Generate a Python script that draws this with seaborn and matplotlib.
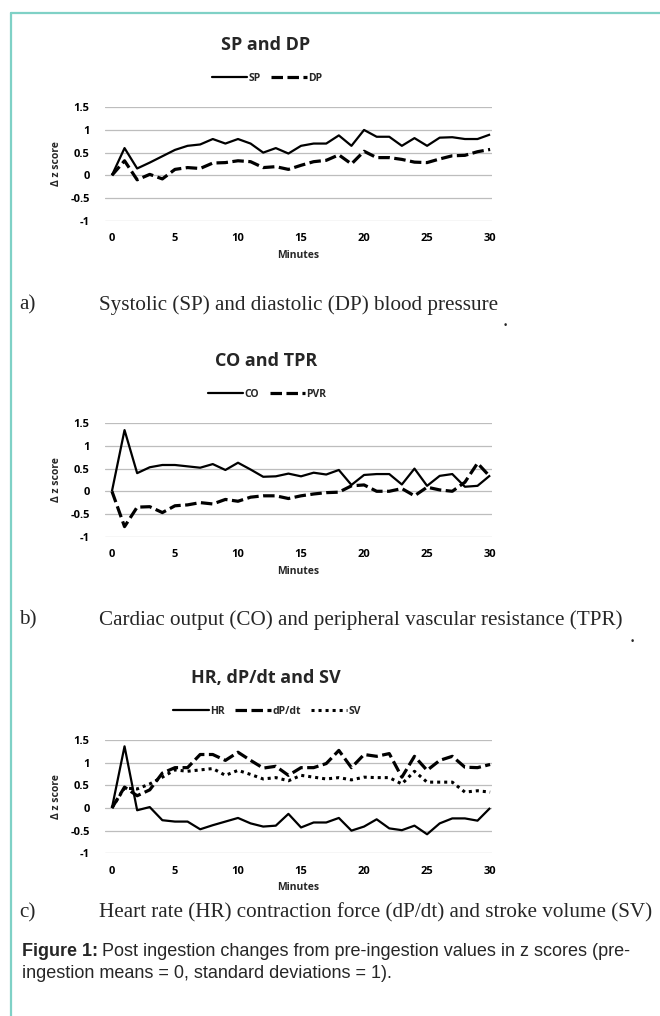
import pandas as pd
import matplotlib
matplotlib.use("Agg")
import matplotlib.pyplot as plt
import seaborn as sns
from matplotlib.lines import Line2D

minutes = list(range(31))

sp = [0, 0.6, 0.15, 0.28, 0.42, 0.56, 0.65, 0.68, 0.8, 0.7, 0.8, 0.7, 0.5, 0.6, 0.48, 0.65,
      0.7, 0.7, 0.88, 0.65, 1.0, 0.85, 0.85, 0.65, 0.82, 0.65, 0.83, 0.84, 0.8, 0.8, 0.9]
dp = [0, 0.32, -0.1, 0.02, -0.08, 0.13, 0.17, 0.15, 0.27, 0.28, 0.32, 0.3, 0.17, 0.19, 0.13, 0.22,
      0.3, 0.33, 0.45, 0.25, 0.53, 0.39, 0.39, 0.35, 0.29, 0.28, 0.36, 0.43, 0.44, 0.52, 0.57]

co = [0, 1.35, 0.4, 0.53, 0.58, 0.58, 0.55, 0.52, 0.6, 0.47, 0.63, 0.48, 0.32, 0.33, 0.39, 0.33,
      0.41, 0.37, 0.47, 0.14, 0.36, 0.38, 0.38, 0.15, 0.5, 0.12, 0.34, 0.38, 0.1, 0.12, 0.35]
pvr = [0, -0.78, -0.35, -0.34, -0.47, -0.32, -0.3, -0.25, -0.28, -0.18, -0.22, -0.13, -0.1, -0.1, -0.16, -0.1,
       -0.06, -0.03, -0.02, 0.12, 0.14, 0.0, 0.0, 0.06, -0.1, 0.09, 0.03, 0.0, 0.2, 0.62, 0.32]

hr = [0, 1.36, -0.05, 0.02, -0.27, -0.3, -0.3, -0.47, -0.38, -0.3, -0.22, -0.34, -0.41, -0.39, -0.13, -0.43,
      -0.32, -0.32, -0.22, -0.5, -0.41, -0.25, -0.45, -0.49, -0.39, -0.58, -0.34, -0.23, -0.23, -0.28, 0.0]
dpdt = [0, 0.46, 0.27, 0.4, 0.77, 0.89, 0.89, 1.18, 1.18, 1.05, 1.23, 1.05, 0.88, 0.92, 0.72, 0.89,
        0.89, 0.98, 1.27, 0.89, 1.18, 1.14, 1.2, 0.68, 1.14, 0.83, 1.05, 1.14, 0.9, 0.89, 0.96]
sv = [0, 0.44, 0.42, 0.53, 0.68, 0.84, 0.81, 0.84, 0.87, 0.72, 0.83, 0.74, 0.64, 0.67, 0.6, 0.72,
      0.68, 0.64, 0.67, 0.62, 0.68, 0.67, 0.67, 0.53, 0.81, 0.57, 0.57, 0.57, 0.35, 0.38, 0.35]

y_ticks = [-1, -0.5, 0, 0.5, 1, 1.5]
y_tick_labels = ["-1", "-0.5", "0", "0.5", "1", "1.5"]
x_ticks = [0, 5, 10, 15, 20, 25, 30]

sns.set_theme(style="white")
plt.rcParams["font.family"] = ["Open Sans", "DejaVu Sans"]
plt.rcParams["axes.unicode_minus"] = False

W, H = 660, 1016
fig = plt.figure(figsize=(6.6, 10.16), dpi=100)


def fx(px):
    return px / W


def fy(py):
    return 1 - py / H


styles = {
    "solid": dict(linestyle="-", linewidth=1.6),
    "dash": dict(linestyle=(0, (3.6, 1.4)), linewidth=2.3),
    "dot": dict(linestyle=(0, (1, 1.3)), linewidth=2.2),
}

panels = [
    dict(title="SP and DP", top=107.3,
         series=[("SP", sp, "solid"), ("DP", dp, "dash")],
         tag="a)", caption="Systolic (SP) and diastolic (DP) blood pressure",
         cap_y=305, dot=(503, 322)),
    dict(title="CO and TPR", top=423.3,
         series=[("CO", co, "solid"), ("PVR", pvr, "dash")],
         tag="b)", caption="Cardiac output (CO) and peripheral vascular resistance (TPR)",
         cap_y=620, dot=(630, 638)),
    dict(title="HR, dP/dt and SV", top=740.0,
         series=[("HR", hr, "solid"), ("dP/dt", dpdt, "dash"), ("SV", sv, "dot")],
         tag="c)", caption="Heart rate (HR) contraction force (dP/dt) and stroke volume (SV)",
         cap_y=913, dot=None),
]

ax_left, ax_right = 105, 492
ax_h = 113.3

for p in panels:
    top = p["top"]
    ax = fig.add_axes([fx(ax_left), fy(top + ax_h), (ax_right - ax_left) / W, ax_h / H])
    handles = []
    for name, vals, st in p["series"]:
        df = pd.DataFrame({"Minutes": minutes, "value": vals})
        sns.lineplot(data=df, x="Minutes", y="value", ax=ax, color="black",
                     dash_capstyle="butt", solid_capstyle="butt", **styles[st])
        handles.append(Line2D([], [], color="black", **styles[st]))

    ax.set_xlim(-0.55, 30.15)
    ax.set_ylim(-1, 1.5)
    ax.set_yticks(y_ticks)
    ax.set_yticklabels(y_tick_labels)
    ax.set_xticks(x_ticks)
    ax.grid(axis="y", color="#bdbdbd", linewidth=0.9)
    ax.grid(axis="x", visible=False)
    sns.despine(ax=ax, left=True, bottom=True)
    ax.tick_params(axis="both", length=0, labelsize=8, colors="black")
    ax.tick_params(axis="x", pad=9)
    ax.tick_params(axis="y", pad=11)
    for lab in ax.get_xticklabels() + ax.get_yticklabels():
        lab.set_fontweight("bold")
    ax.set_xlabel("Minutes", fontsize=7.5, fontweight="bold", labelpad=4)
    ax.set_ylabel("Δ z score", fontsize=7.5, fontweight="bold", labelpad=6)

    fig.text(fx(266), fy(top - 62), p["title"], ha="center", va="center",
             fontsize=13, fontweight="bold")
    fig.legend(handles, [s[0] for s in p["series"]], loc="center",
               bbox_to_anchor=(fx(267), fy(top - 29)), ncol=len(handles), frameon=False,
               prop=dict(size=7.5, weight="bold"), handlelength=3.4, handletextpad=0.15,
               columnspacing=1.0)

    cap_y = p["cap_y"]
    fig.text(fx(19), fy(cap_y), p["tag"], family="Liberation Serif", fontsize=15.2, va="center")
    fig.text(fx(99), fy(cap_y), p["caption"], family="Liberation Serif", fontsize=15.2, va="center")
    if p["dot"]:
        fig.text(fx(p["dot"][0]), fy(p["dot"][1]), ".", family="Liberation Serif",
                 fontsize=15.2, va="center")

# figure caption
fig.canvas.draw()
renderer = fig.canvas.get_renderer()
bold = fig.text(fx(22), fy(951), "Figure 1:", family="Liberation Sans", fontsize=13,
                fontweight="bold", va="center")
bb = bold.get_window_extent(renderer=renderer)
fig.text(bb.x1 / W + fx(4), fy(951),
         "Post ingestion changes from pre-ingestion values in z scores (pre-",
         family="Liberation Sans", fontsize=13, va="center")
fig.text(fx(22), fy(974), "ingestion means = 0, standard deviations = 1).",
         family="Liberation Sans", fontsize=13, va="center")

# teal frame (left and top edges)
frame_color = "#7fd1c6"
fig.add_artist(Line2D([fx(11), fx(11)], [fy(13), 0], color=frame_color, linewidth=1.6,
                      transform=fig.transFigure))
fig.add_artist(Line2D([fx(11), 1], [fy(13), fy(13)], color=frame_color, linewidth=1.6,
                      transform=fig.transFigure))

fig.savefig("out.png", dpi=100)
